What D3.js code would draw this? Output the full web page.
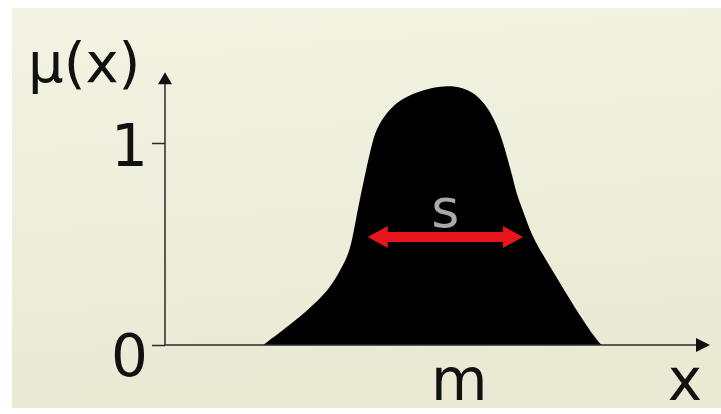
<!DOCTYPE html>
<html>
<head>
<meta charset="utf-8">
<script src="https://cdn.jsdelivr.net/npm/d3@7"></script>
<style>
  html, body { margin: 0; padding: 0; background: #ffffff; }
  svg { display: block; }
  text { font-family: "DejaVu Sans", Verdana, sans-serif; }
</style>
</head>
<body>
<div id="chart"></div>
<script>
// membership curve outline (x in axis units 0..100, mu in 0..1 units)
let curveX  = [18.0, 22.9, 26.6, 29.7, 31.7, 33.4, 34.3, 35.4, 36.7, 38.0, 39.1, 41.3, 44.4, 50.5,
               54.7, 57.2, 59.3, 60.9, 62.0, 62.8, 63.7, 64.4, 65.5, 66.6, 67.9, 71.6, 75.2, 79.4, 80.2];
let curveMu = [0, 0.099, 0.183, 0.262, 0.347, 0.431, 0.510, 0.678, 0.842, 1.005, 1.089, 1.173, 1.238, 1.287,
               1.277, 1.238, 1.173, 1.089, 1.005, 0.926, 0.842, 0.757, 0.678, 0.594, 0.510, 0.347, 0.183, 0.015, 0];

let yTicks = [0, 1];
let yTickLabels = ["0", "1"];
let sSpan = [37.2, 65.7];   // width arrow
let sLevel = 0.535;
let mValue = 54;
let xMax = 100;
let yMax = 1.35;

let width = 721, height = 414;

let svg = d3.select("#chart").append("svg")
    .attr("width", width)
    .attr("height", height);

// beige panel
let grad = svg.append("defs").append("linearGradient")
    .attr("id", "bg").attr("x1", 0).attr("y1", 0).attr("x2", 0.15).attr("y2", 1);
grad.append("stop").attr("offset", "0%").attr("stop-color", "#f3f3e3");
grad.append("stop").attr("offset", "100%").attr("stop-color", "#e9e9d4");

svg.append("rect")
    .attr("x", 12).attr("y", 8)
    .attr("width", width - 12).attr("height", 400)
    .attr("fill", "url(#bg)");

let x = d3.scaleLinear().domain([0, xMax]).range([165, 710]);
let y = d3.scaleLinear().domain([0, 1]).range([345, 143]);

let data = curveX.map((d, i) => ({x: d, mu: curveMu[i]}));

// filled shape
let area = d3.area()
    .x(d => x(d.x))
    .y0(y(0))
    .y1(d => y(d.mu))
    .curve(d3.curveBasis);

svg.append("path")
    .datum(data)
    .attr("d", area)
    .attr("fill", "#000");

// axes lines
let axisColor = "#2a2a2a";

svg.append("line")
    .attr("x1", x(0)).attr("x2", x(0))
    .attr("y1", y(0)).attr("y2", y(yMax) + 8)
    .attr("stroke", axisColor).attr("stroke-width", 1.5);

svg.append("path")
    .attr("d", `M${x(0)},${y(yMax)} L${x(0) - 7},${y(yMax) + 12} L${x(0) + 7},${y(yMax) + 12} Z`)
    .attr("fill", "#111");

svg.append("line")
    .attr("x1", x(0)).attr("x2", x(xMax) - 10)
    .attr("y1", y(0)).attr("y2", y(0))
    .attr("stroke", axisColor).attr("stroke-width", 1.5);

svg.append("path")
    .attr("d", `M${x(xMax)},${y(0)} L${x(xMax) - 14},${y(0) - 7} L${x(xMax) - 14},${y(0) + 7} Z`)
    .attr("fill", "#111");

// y ticks
let yAxis = d3.axisLeft(y)
    .tickValues(yTicks)
    .tickSize(13)
    .tickPadding(4)
    .tickFormat((d, i) => yTickLabels[i]);

let gy = svg.append("g")
    .attr("transform", "translate(" + x(0) + ",0)")
    .call(yAxis);

gy.select(".domain").remove();
gy.selectAll(".tick line").attr("stroke", axisColor).attr("stroke-width", 1.5);
gy.selectAll(".tick text")
    .attr("fill", "#111")
    .style("font-size", "58px")
    .style("font-family", '"DejaVu Sans", Verdana, sans-serif')
    .attr("dy", d => d === 0 ? "0.52em" : "0.38em");

// axis titles
svg.append("text")
    .attr("x", 28)
    .attr("y", 82)
    .style("font-size", "56px")
    .attr("fill", "#111")
    .text("μ(x)");

svg.append("text")
    .attr("x", 685)
    .attr("y", 400)
    .attr("text-anchor", "middle")
    .style("font-size", "58px")
    .attr("fill", "#111")
    .text("x");

svg.append("text")
    .attr("x", x(mValue))
    .attr("y", 400)
    .attr("text-anchor", "middle")
    .style("font-size", "58px")
    .attr("fill", "#111")
    .text("m");

// red width arrow
let ay = y(sLevel);
let ax1 = x(sSpan[0]), ax2 = x(sSpan[1]);
let shaft = 5, head = 11, headLen = 20;

svg.append("path")
    .attr("d", [
        "M", ax1, ay,
        "L", ax1 + headLen, ay - head,
        "L", ax1 + headLen, ay - shaft,
        "L", ax2 - headLen, ay - shaft,
        "L", ax2 - headLen, ay - head,
        "L", ax2, ay,
        "L", ax2 - headLen, ay + head,
        "L", ax2 - headLen, ay + shaft,
        "L", ax1 + headLen, ay + shaft,
        "L", ax1 + headLen, ay + head,
        "Z"].join(" "))
    .attr("fill", "#e8161b");

svg.append("text")
    .attr("x", (ax1 + ax2) / 2)
    .attr("y", ay - 10)
    .attr("text-anchor", "middle")
    .style("font-size", "54px")
    .attr("fill", "#a9a9a9")
    .text("s");
</script>
</body>
</html>
